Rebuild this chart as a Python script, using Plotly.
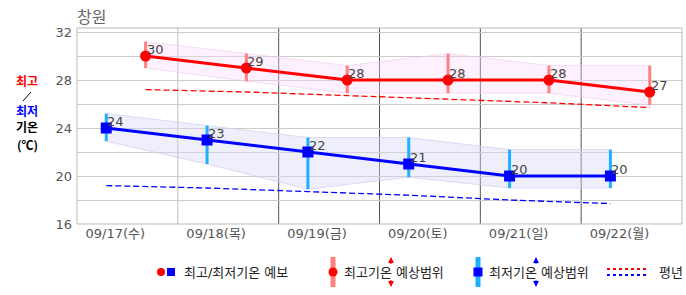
import plotly.graph_objects as go

# ---- data ----
days = ["09/17(수)", "09/18(목)", "09/19(금)", "09/20(토)", "09/21(일)", "09/22(월)"]
max_temp = [30, 29, 28, 28, 28, 27]
max_hi = [31.2, 30.2, 29.2, 30.2, 29.2, 29.2]
max_lo = [29.0, 27.9, 26.9, 26.9, 26.9, 25.9]
min_temp = [24, 23, 22, 21, 20, 20]
min_hi = [25.2, 24.2, 23.2, 23.2, 22.2, 22.2]
min_lo = [22.9, 21.0, 18.9, 19.9, 19.0, 19.0]
normal_max = [27.2, 27.0, 26.7, 26.4, 26.1, 25.7]
normal_min = [19.2, 19.0, 18.7, 18.4, 18.0, 17.7]
y_ticks = [16, 18, 20, 22, 24, 26, 28, 30, 32]

MIN_OFF, MAX_OFF = 0.29, 0.68
xmax = [i + MAX_OFF for i in range(len(days))]
xmin = [i + MIN_OFF for i in range(len(days))]

RED, BLUE = "#ff0000", "#0000ff"
RED_BAR, BLUE_BAR = "#ff8080", "#1eb0ff"
FONT = "DejaVu Sans, Noto Sans CJK KR"

# plot area in pixels
L, R, T, B = 77, 682, 28, 224
W, H = 686, 295
def px(x): return (x - L) / (R - L)
def py(y): return (B - y) / (B - T)

fig = go.Figure()

# bands
fig.add_trace(go.Scatter(x=xmax + xmax[::-1], y=max_hi + max_lo[::-1], fill="toself",
                         fillcolor="rgba(250,215,250,0.35)", line=dict(color="rgba(240,200,240,0.6)", width=1),
                         mode="lines", hoverinfo="skip", showlegend=False))
fig.add_trace(go.Scatter(x=xmin + xmin[::-1], y=min_hi + min_lo[::-1], fill="toself",
                         fillcolor="rgba(215,215,248,0.4)", line=dict(color="rgba(205,205,240,0.7)", width=1),
                         mode="lines", hoverinfo="skip", showlegend=False))

# normals
fig.add_trace(go.Scatter(x=xmax, y=normal_max, mode="lines",
                         line=dict(color=RED, width=1.3, dash="6px,3px"), hoverinfo="skip", showlegend=False))
fig.add_trace(go.Scatter(x=xmin, y=normal_min, mode="lines",
                         line=dict(color=BLUE, width=1.3, dash="6px,3px"), hoverinfo="skip", showlegend=False))

# range bars
def bars(xs, lo, hi):
    bx, by = [], []
    for x, a, b in zip(xs, lo, hi):
        bx += [x, x, None]
        by += [a, b, None]
    return bx, by

bx, by = bars(xmax, max_lo, max_hi)
fig.add_trace(go.Scatter(x=bx, y=by, mode="lines", line=dict(color=RED_BAR, width=3),
                         hoverinfo="skip", showlegend=False))
bx, by = bars(xmin, min_lo, min_hi)
fig.add_trace(go.Scatter(x=bx, y=by, mode="lines", line=dict(color=BLUE_BAR, width=3),
                         hoverinfo="skip", showlegend=False))

# main lines
fig.add_trace(go.Scatter(x=xmax, y=max_temp, mode="lines+markers",
                         line=dict(color=RED, width=3), marker=dict(color=RED, size=11, symbol="circle"),
                         showlegend=False))
fig.add_trace(go.Scatter(x=xmin, y=min_temp, mode="lines+markers",
                         line=dict(color=BLUE, width=3), marker=dict(color=BLUE, size=11, symbol="square"),
                         showlegend=False))

annotations = []
# value labels
for xs, vals in [(xmax, max_temp), (xmin, min_temp)]:
    for x, v in zip(xs, vals):
        annotations.append(dict(x=x, y=v, text=str(v), xref="x", yref="y", xanchor="left", yanchor="bottom",
                                showarrow=False, xshift=-1, yshift=-3,
                                font=dict(family=FONT, size=13, color="#444")))

shapes = []
# vertical grid lines
for k in range(1, len(days)):
    shapes.append(dict(type="line", xref="x", yref="paper", x0=k, x1=k, y0=0, y1=1,
                       line=dict(color="#bbbbbb" if k == 1 else "#555555", width=1), layer="below"))
# border
shapes.append(dict(type="rect", xref="paper", yref="paper", x0=0, x1=1, y0=0, y1=1,
                   line=dict(color="#bbbbbb", width=1)))

# title
annotations.append(dict(text="창원", xref="paper", yref="paper", x=px(75), y=py(17), xanchor="left",
                        yanchor="middle", showarrow=False, font=dict(family=FONT, size=16, color="#666")))
# left label
for txt, col, yy in [("<b>최고</b>", RED, 80), ("<b>최저</b>", BLUE, 110),
                     ("<b>기온</b>", "#000", 127), ("<b>(℃)</b>", "#000", 144)]:
    annotations.append(dict(text=txt, xref="paper", yref="paper", x=px(27), y=py(yy), xanchor="center",
                            yanchor="middle", showarrow=False, borderpad=0,
                            font=dict(family="Noto Sans CJK KR", size=12, color=col)))
shapes.append(dict(type="line", xref="paper", yref="paper", x0=px(23), x1=px(31), y0=py(101), y1=py(92),
                   line=dict(color="#000", width=1)))

# legend
LY = 272
shapes.append(dict(type="circle", xref="paper", yref="paper", x0=px(157), x1=px(165), y0=py(LY - 4), y1=py(LY + 4),
                   fillcolor=RED, line=dict(width=0)))
shapes.append(dict(type="rect", xref="paper", yref="paper", x0=px(167), x1=px(175), y0=py(LY - 4), y1=py(LY + 4),
                   fillcolor=BLUE, line=dict(width=0)))
annotations.append(dict(text="최고/최저기온 예보", xref="paper", yref="paper", x=px(182), y=py(LY),
                        xanchor="left", yanchor="middle", showarrow=False, font=dict(family=FONT, size=13, color="#222")))

for bx0, barcol, mcol, sym, arrx, label in [(333, RED_BAR, RED, "circle", 391, "최고기온"),
                                             (478, BLUE_BAR, BLUE, "square", 536, "최저기온")]:
    shapes.append(dict(type="line", xref="paper", yref="paper", x0=px(bx0), x1=px(bx0), y0=py(257), y1=py(287),
                       line=dict(color=barcol, width=5)))
    shapes.append(dict(type=sym if sym == "circle" else "rect", xref="paper", yref="paper",
                       x0=px(bx0 - 4.5), x1=px(bx0 + 4.5), y0=py(LY - 4.5), y1=py(LY + 4.5),
                       fillcolor=mcol, line=dict(width=0)))
    annotations.append(dict(text=label + " 예상범위", xref="paper", yref="paper", x=px(bx0 + 9), y=py(LY),
                            xanchor="left", yanchor="middle", showarrow=False,
                            font=dict(family=FONT, size=13, color="#222")))
    for tip, tail in [(257, 265), (287, 279)]:
        annotations.append(dict(text="", xref="paper", yref="paper", x=px(arrx), y=py(tip),
                                ax=0, ay=tail - tip, showarrow=True, arrowhead=2, arrowsize=0.6,
                                arrowwidth=2, arrowcolor=mcol))

shapes.append(dict(type="line", xref="paper", yref="paper", x0=px(607), x1=px(647), y0=py(269), y1=py(269),
                   line=dict(color=RED, width=2, dash="3px,3px")))
shapes.append(dict(type="line", xref="paper", yref="paper", x0=px(607), x1=px(647), y0=py(275), y1=py(275),
                   line=dict(color=BLUE, width=2, dash="3px,3px")))
annotations.append(dict(text="평년", xref="paper", yref="paper", x=px(657), y=py(LY),
                        xanchor="left", yanchor="middle", showarrow=False, font=dict(family=FONT, size=13, color="#222")))

fig.update_layout(
    width=W, height=H, margin=dict(l=L, r=W - R, t=T, b=H - B),
    paper_bgcolor="white", plot_bgcolor="white", showlegend=False,
    shapes=shapes, annotations=annotations,
    font=dict(family=FONT),
    xaxis=dict(range=[0, len(days)], tickvals=[i + 0.38 for i in range(len(days))], ticktext=days,
               showgrid=False, zeroline=False, showline=False, ticks="",
               tickfont=dict(family=FONT, size=13, color="#555"), fixedrange=True),
    yaxis=dict(range=[16, 32 + 4 / 12], tickvals=y_ticks,
               ticktext=[str(v) if v % 4 == 0 else "" for v in y_ticks],
               showgrid=True, gridcolor="#cccccc", gridwidth=1, zeroline=False, showline=False, ticks="",
               tickfont=dict(family=FONT, size=13, color="#555"), ticklabelstandoff=4, fixedrange=True),
)

fig.write_html("out.html", config={"displayModeBar": False})
